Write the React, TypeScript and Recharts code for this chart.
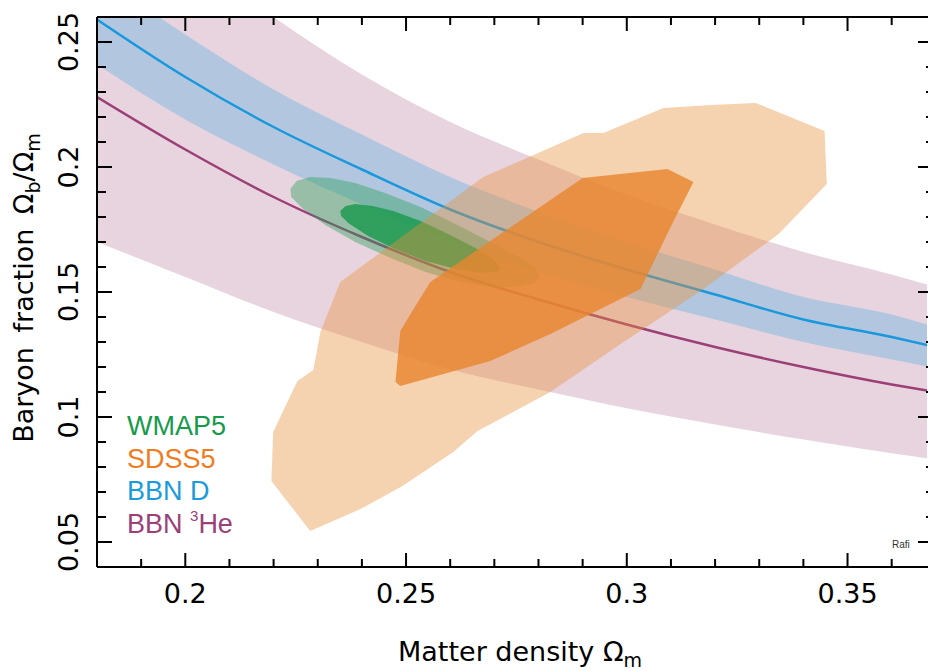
import React from 'react';
import { ComposedChart, Area, Line, Scatter, XAxis, YAxis } from 'recharts';

// Matter density sample points for the BBN bands / lines
const omegaM = [0.18, 0.2, 0.22, 0.24, 0.26, 0.28, 0.3, 0.32, 0.34, 0.36, 0.37];
const bbnDMid = [0.259, 0.236, 0.216, 0.199, 0.183, 0.17, 0.159, 0.149, 0.139, 0.132, 0.128];
const bbnDLow = [0.241, 0.219, 0.201, 0.185, 0.17, 0.158, 0.148, 0.139, 0.13, 0.123, 0.1195];
const bbnDHigh = [0.277, 0.253, 0.231, 0.213, 0.196, 0.182, 0.17, 0.159, 0.148, 0.141, 0.136];
const bbnHeMid = [0.228, 0.207, 0.188, 0.172, 0.158, 0.147, 0.137, 0.128, 0.12, 0.113, 0.11];
const bbnHeLow = [0.17, 0.156, 0.142, 0.13, 0.119, 0.111, 0.1035, 0.097, 0.091, 0.0855, 0.083];
const bbnHeHigh = [0.315, 0.286, 0.26, 0.237, 0.218, 0.203, 0.189, 0.177, 0.166, 0.157, 0.152];

// contours [omega_m, omega_b/omega_m]
const wmapOuter = [
  [0.2238, 0.1912], [0.2252, 0.1944], [0.2283, 0.196], [0.2329, 0.1956], [0.2385, 0.1936],
  [0.2453, 0.1896], [0.2533, 0.184], [0.2612, 0.1772], [0.2691, 0.17], [0.2755, 0.164],
  [0.2793, 0.1592], [0.2804, 0.156], [0.2793, 0.1536], [0.2748, 0.152], [0.2691, 0.152],
  [0.2623, 0.154], [0.2544, 0.158], [0.2465, 0.1636], [0.2385, 0.17], [0.2317, 0.1768],
  [0.2267, 0.1832], [0.224, 0.188],
];
const wmapInner = [
  [0.2351, 0.1824], [0.2363, 0.1844], [0.2385, 0.1852], [0.2424, 0.1844], [0.2471, 0.1824],
  [0.2533, 0.1784], [0.26, 0.1728], [0.2657, 0.1676], [0.2698, 0.1632], [0.2714, 0.16],
  [0.2707, 0.158], [0.2668, 0.1576], [0.2612, 0.1592], [0.2544, 0.1624], [0.2475, 0.1672],
  [0.2414, 0.1724], [0.2369, 0.1776], [0.2353, 0.1804],
];
const sdssOuter = [
  [0.2283, 0.0544], [0.2195, 0.0744], [0.2199, 0.094], [0.2254, 0.1144], [0.229, 0.1188],
  [0.2306, 0.134], [0.2351, 0.154], [0.2675, 0.196], [0.2902, 0.2136], [0.2947, 0.2136],
  [0.3083, 0.2236], [0.319, 0.2248], [0.3292, 0.2256], [0.3448, 0.2144], [0.3453, 0.1932],
  [0.3344, 0.1732], [0.3167, 0.1504], [0.2986, 0.1292], [0.2827, 0.11], [0.2662, 0.0944],
  [0.2607, 0.086], [0.2492, 0.0724], [0.2397, 0.0632],
];
const sdssInner = [
  [0.3151, 0.194], [0.3106, 0.1784], [0.3031, 0.1512], [0.2827, 0.1332], [0.2691, 0.1224],
  [0.2487, 0.1124], [0.2476, 0.114], [0.2487, 0.1344], [0.2517, 0.1432], [0.2555, 0.154],
  [0.29, 0.1956], [0.3092, 0.1992],
];

// the plot is cut at the right, a bit before 0.37
const xDomain = [0.18, 0.368];
const yDomain = [0.04, 0.26];
const xTicks = [0.18, 0.19, 0.2, 0.21, 0.22, 0.23, 0.24, 0.25, 0.26, 0.27, 0.28, 0.29, 0.3, 0.31, 0.32, 0.33, 0.34, 0.35, 0.36];
const xMajor = [0.2, 0.25, 0.3, 0.35];
const yTicks = [0.04, 0.05, 0.06, 0.07, 0.08, 0.09, 0.1, 0.11, 0.12, 0.13, 0.14, 0.15, 0.16, 0.17, 0.18, 0.19, 0.2, 0.21, 0.22, 0.23, 0.24, 0.25, 0.26];
const yMajor = [0.05, 0.1, 0.15, 0.2, 0.25];

const bands = omegaM.map((x, i) => ({
  x,
  dMid: bbnDMid[i],
  dBand: [bbnDLow[i], bbnDHigh[i]],
  heMid: bbnHeMid[i],
  heBand: [bbnHeLow[i], bbnHeHigh[i]],
}));
const toPts = (arr: number[][]) => arr.map(([x, y]) => ({ x, y }));

const AXIS_FONT = '"DejaVu Sans", sans-serif';
const LEG_FONT = '"Liberation Sans", Arial, sans-serif';
const isMajor = (v: number, list: number[]) => list.some((m) => Math.abs(m - v) < 1e-6);

const BottomTick = ({ x, y, payload }: any) => {
  const major = isMajor(payload.value, xMajor);
  return (
    <g>
      <line x1={x} x2={x} y1={y} y2={y - (major ? 14 : 8)} stroke="#000" strokeWidth={2} />
      {major && (
        <text x={x} y={y + 36} textAnchor="middle" fontSize={27} fontFamily={AXIS_FONT} fill="#000">
          {payload.value}
        </text>
      )}
    </g>
  );
};

const TopTick = ({ x, y, payload }: any) => {
  const major = isMajor(payload.value, xMajor);
  return <line x1={x} x2={x} y1={y} y2={y + (major ? 14 : 8)} stroke="#000" strokeWidth={2} />;
};

const LeftTick = ({ x, y, payload }: any) => {
  const major = isMajor(payload.value, yMajor);
  return (
    <g>
      <line x1={x} x2={x + (major ? 15 : 9)} y1={y} y2={y} stroke="#000" strokeWidth={2} />
      {major && (
        <text
          transform={`translate(${x - 19},${y}) rotate(-90)`}
          textAnchor="middle"
          fontSize={27}
          fontFamily={AXIS_FONT}
          fill="#000"
        >
          {payload.value}
        </text>
      )}
    </g>
  );
};

// right frame sits just outside the picture, only the tick ends show
const RightTick = ({ x, y, payload }: any) => {
  const major = isMajor(payload.value, yMajor);
  return <line x1={x + 2} x2={x - (major ? 9 : 1)} y1={y} y2={y} stroke="#000" strokeWidth={2} />;
};

const noShape = () => <g />;
const frame = { stroke: '#000', strokeWidth: 2 };

export default function App() {
  return (
    <div style={{ position: 'fixed', left: 0, top: 0, width: 928, height: 671, overflow: 'hidden', background: '#fff' }}>
      <ComposedChart
        width={928}
        height={671}
        data={bands}
        margin={{ top: 16, right: 0, bottom: 103, left: 96 }}
      >
        <XAxis
          dataKey="x"
          type="number"
          domain={xDomain}
          allowDataOverflow
          ticks={xTicks}
          interval={0}
          height={1}
          tickSize={0}
          tickMargin={0}
          tickLine={false}
          axisLine={frame}
          tick={BottomTick}
        />
        <XAxis
          xAxisId="top"
          orientation="top"
          dataKey="x"
          type="number"
          domain={xDomain}
          allowDataOverflow
          ticks={xTicks}
          interval={0}
          height={1}
          tickSize={0}
          tickMargin={0}
          tickLine={false}
          axisLine={frame}
          tick={TopTick}
        />
        <YAxis
          type="number"
          domain={yDomain}
          allowDataOverflow
          ticks={yTicks}
          interval={0}
          width={1}
          tickSize={0}
          tickMargin={0}
          tickLine={false}
          axisLine={frame}
          tick={LeftTick}
        />
        <YAxis
          yAxisId="right"
          orientation="right"
          type="number"
          domain={yDomain}
          allowDataOverflow
          ticks={yTicks}
          interval={0}
          width={1}
          tickSize={0}
          tickMargin={0}
          tickLine={false}
          axisLine={false}
          tick={RightTick}
        />
        <Area type="monotone" dataKey="heBand" stroke="none" fill="#e8d4df" fillOpacity={1} isAnimationActive={false} />
        <Area type="monotone" dataKey="dBand" stroke="none" fill="#b2c7df" fillOpacity={1} isAnimationActive={false} />
        <Line type="monotone" dataKey="dMid" stroke="#1a98dc" strokeWidth={2.5} dot={false} isAnimationActive={false} />
        <Line type="monotone" dataKey="heMid" stroke="#9b3f76" strokeWidth={2.5} dot={false} isAnimationActive={false} />
        <Scatter
          data={toPts(wmapOuter)}
          dataKey="y"
          shape={noShape}
          line={{ fill: '#2aa05a', fillOpacity: 0.42, stroke: 'none' }}
          lineJointType="linearClosed"
          isAnimationActive={false}
        />
        <Scatter
          data={toPts(wmapInner)}
          dataKey="y"
          shape={noShape}
          line={{ fill: '#1f9a50', fillOpacity: 0.85, stroke: 'none' }}
          lineJointType="linearClosed"
          isAnimationActive={false}
        />
        <Scatter
          data={toPts(sdssOuter)}
          dataKey="y"
          shape={noShape}
          line={{ fill: '#e9913a', fillOpacity: 0.4, stroke: 'none' }}
          lineJointType="linearClosed"
          isAnimationActive={false}
        />
        <Scatter
          data={toPts(sdssInner)}
          dataKey="y"
          shape={noShape}
          line={{ fill: '#e8862f', fillOpacity: 0.82, stroke: 'none' }}
          lineJointType="linearClosed"
          isAnimationActive={false}
        />
      </ComposedChart>
      <svg width={928} height={671} style={{ position: 'absolute', left: 0, top: 0, pointerEvents: 'none' }}>
        <text x={398} y={661} fontSize={27} fontFamily={AXIS_FONT} fill="#000">
          Matter density Ω<tspan fontSize={19} dy={6}>m</tspan>
        </text>
        <text transform="translate(33,288) rotate(-90)" textAnchor="middle" fontSize={27} fontFamily={AXIS_FONT} fill="#000" wordSpacing={6}>
          Baryon fraction Ω<tspan fontSize={19} dy={7}>b</tspan>
          <tspan dy={-7}>/Ω</tspan>
          <tspan fontSize={19} dy={7}>m</tspan>
        </text>
        <g fontFamily={LEG_FONT} fontSize={27}>
          <text x={127} y={435} fill="#169a4b">WMAP5</text>
          <text x={127} y={468} fill="#f07c22">SDSS5</text>
          <text x={127} y={500} fill="#1a9bdb">BBN D</text>
          <text x={127} y={533} fill="#9c4078">
            BBN <tspan fontSize={15} dy={-12}>3</tspan>
            <tspan dy={12}>He</tspan>
          </text>
        </g>
        <text x={892} y={548} fontSize={10} fontFamily={LEG_FONT} fill="#333">Rafi</text>
      </svg>
    </div>
  );
}
